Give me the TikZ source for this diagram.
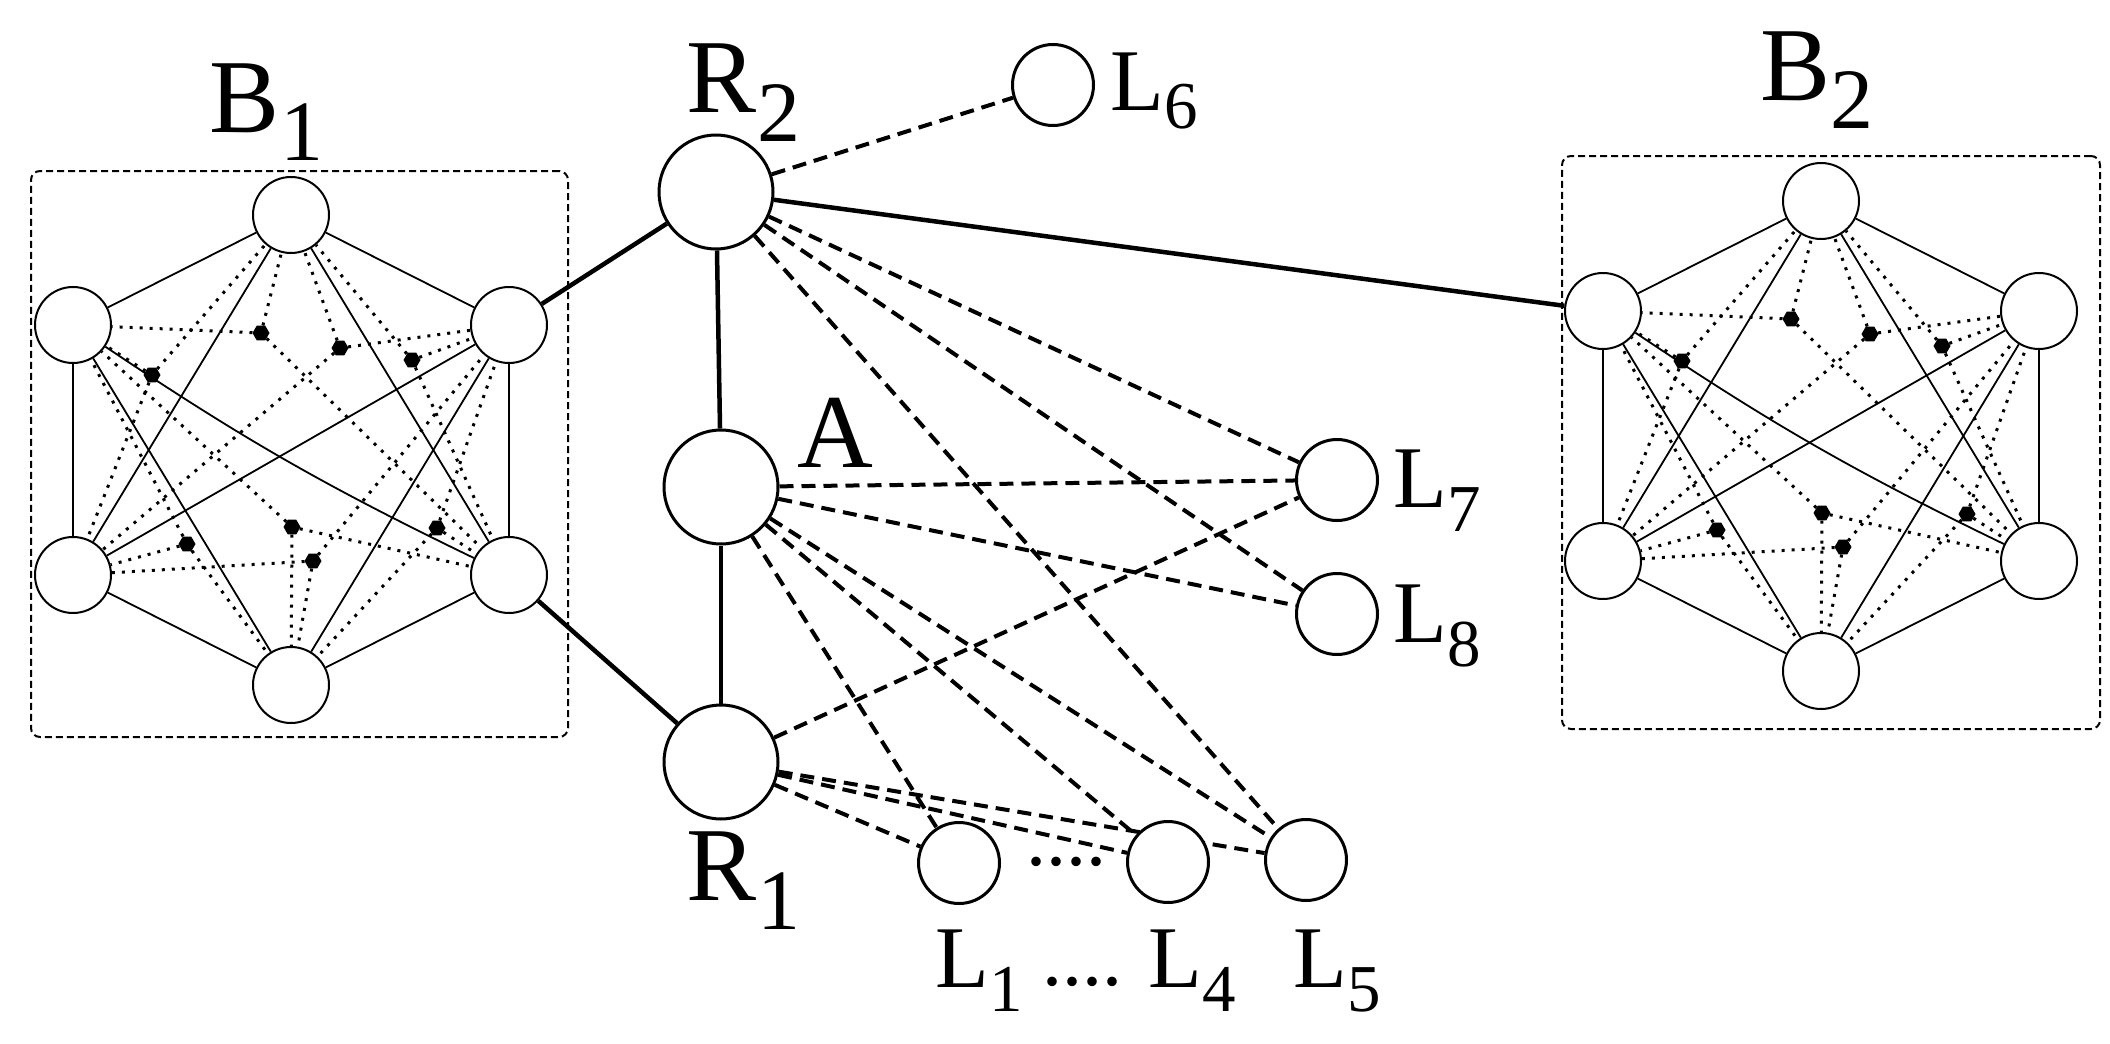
\documentclass[tikz,border=0pt]{standalone}
\usepackage{fontspec}
\setmainfont{Liberation Serif}
\usetikzlibrary{shapes.geometric,backgrounds}
\tikzset{
  big/.style={circle,draw,line width=3pt,minimum size=114pt,inner sep=0pt,fill=white},
  leaf/.style={circle,draw,line width=3pt,minimum size=81pt,inner sep=0pt,fill=white},
  hn/.style={circle,draw,line width=2pt,minimum size=76pt,inner sep=0pt,fill=white},
  hid/.style={regular polygon,regular polygon sides=6,fill=black,minimum size=17pt,inner sep=0pt},
  thick link/.style={line width=4.5pt},
  dlink/.style={line width=4pt,dash pattern=on 14pt off 8pt},
  thin link/.style={line width=1.8pt},
  dot link/.style={line width=3pt,dash pattern=on 3pt off 7pt},
  box/.style={line width=2pt,dash pattern=on 7pt off 4pt,rounded corners=9pt},
  bigt/.style={inner sep=0pt,anchor=base,font=\fontsize{105}{110}\selectfont},
  bigs/.style={inner sep=0pt,anchor=base west,font=\fontsize{86}{90}\selectfont},
  smt/.style={inner sep=0pt,anchor=base,font=\fontsize{88}{92}\selectfont},
  sms/.style={inner sep=0pt,anchor=base west,font=\fontsize{67}{70}\selectfont}
}
\newcommand\hexblock[3]{%
  \begin{scope}[shift={(#2,#3)}]
  \node[hid] (#1d1) at (-30,-117) {};
  \node[hid] (#1d2) at (49,-102) {};
  \node[hid] (#1d3) at (121,-90) {};
  \node[hid] (#1d4) at (-139,-75) {};
  \node[hid] (#1d5) at (1,77) {};
  \node[hid] (#1d6) at (146,78) {};
  \node[hid] (#1d7) at (-104,94) {};
  \node[hid] (#1d8) at (22,111) {};
  \node[hn] (#1t) at (0,-235) {};
  \node[hn] (#1ur) at (218,-125) {};
  \node[hn] (#1lr) at (218,125) {};
  \node[hn] (#1b) at (0,235) {};
  \node[hn] (#1ll) at (-218,125) {};
  \node[hn] (#1ul) at (-218,-125) {};
  \end{scope}
  \begin{scope}[on background layer]
  \foreach \a/\b in {t/ur,t/lr,t/ll,t/ul,ur/lr,ur/b,ur/ll,lr/b,b/ll,b/ul,ll/ul}
    \draw[thin link] (#1\a) -- (#1\b);
  \draw[thin link] (#1ul) to[bend right=4] (#1lr);
  \foreach \d/\x/\y/\z in {1/ul/t/lr,2/t/ur/ll,3/t/ur/lr,4/ul/t/ll,5/ul/b/lr,6/ur/b/lr,7/ul/ll/b,8/ll/b/ur}{
    \draw[dot link] (#1d\d) -- (#1\x);
    \draw[dot link] (#1d\d) -- (#1\y);
    \draw[dot link] (#1d\d) -- (#1\z);
  }
  \end{scope}
}
\begin{document}
\begin{tikzpicture}[x=1pt,y=-1pt]
\useasboundingbox (0,0) rectangle (2110,1044);
\node[draw,box,minimum width=537pt,minimum height=566pt,inner sep=0pt] (box1) at (299.5,454) {};
\node[draw,box,minimum width=538pt,minimum height=573pt,inner sep=0pt] (box2) at (1831,442.5) {};
\hexblock{a}{291}{450}
\hexblock{c}{1821}{436}
\node[bigt] (lB1) at (245,132) {B};
\node[bigs,yshift=-28pt] (lB1s) at (lB1.base east) {1};
\node[bigt] (lB2) at (1795,100) {B};
\node[bigs,yshift=-28pt] (lB2s) at (lB2.base east) {2};
\node[big] (R2) at (716,192) {};
\node[big] (A) at (721,487) {};
\node[big] (R1) at (721,762) {};
\node[leaf] (L6) at (1053,85) {};
\node[leaf] (L7) at (1337,480) {};
\node[leaf] (L8) at (1337,614) {};
\node[leaf] (L1) at (959,863) {};
\node[leaf] (L4) at (1168,862) {};
\node[leaf] (L5) at (1306,860) {};
\node[inner sep=0pt] (ldots) at (1066,862) {\fontsize{80}{80}\selectfont ....};
\node[bigt] (lR2) at (722,112) {R};
\node[bigs,yshift=-29pt] (lR2s) at (lR2.base east) {2};
\node[bigt] (lA) at (835,467) {A};
\node[bigt] (lR1) at (722,900) {R};
\node[bigs,yshift=-29pt] (lR1s) at (lR1.base east) {1};
\node[smt] (lL6) at (1137,110) {L};
\node[sms,yshift=-18pt] (lL6s) at (lL6.base east) {6};
\node[smt] (lL7) at (1420,507) {L};
\node[sms,yshift=-24pt] (lL7s) at (lL7.base east) {7};
\node[smt] (lL8) at (1420,642) {L};
\node[sms,yshift=-24pt] (lL8s) at (lL8.base east) {8};
\node[smt] (lL1) at (962,987) {L};
\node[sms,yshift=-24pt] (lL1s) at (lL1.base east) {1};
\node[smt] (lL4) at (1175,987) {L};
\node[sms,yshift=-24pt] (lL4s) at (lL4.base east) {4};
\node[smt] (lL5) at (1320,987) {L};
\node[sms,yshift=-24pt] (lL5s) at (lL5.base east) {5};
\node[anchor=base,inner sep=0pt] (ldots2) at (1082,985) {\fontsize{80}{80}\selectfont ....};
\begin{scope}[on background layer]
\draw[thick link] (aur) -- (R2);
\draw[thick link] (alr) -- (R1);
\draw[thick link] (R2) -- (A);
\draw[thick link] (A) -- (R1);
\draw[thick link] (R2) -- (cul);
\foreach \t in {L6,L7,L8,L5} \draw[dlink] (R2) -- (\t);
\foreach \t in {L7,L8,L5,L4,L1} \draw[dlink] (A) -- (\t);
\foreach \t in {L7,L5,L4,L1} \draw[dlink] (R1) -- (\t);
\end{scope}
\end{tikzpicture}
\end{document}
